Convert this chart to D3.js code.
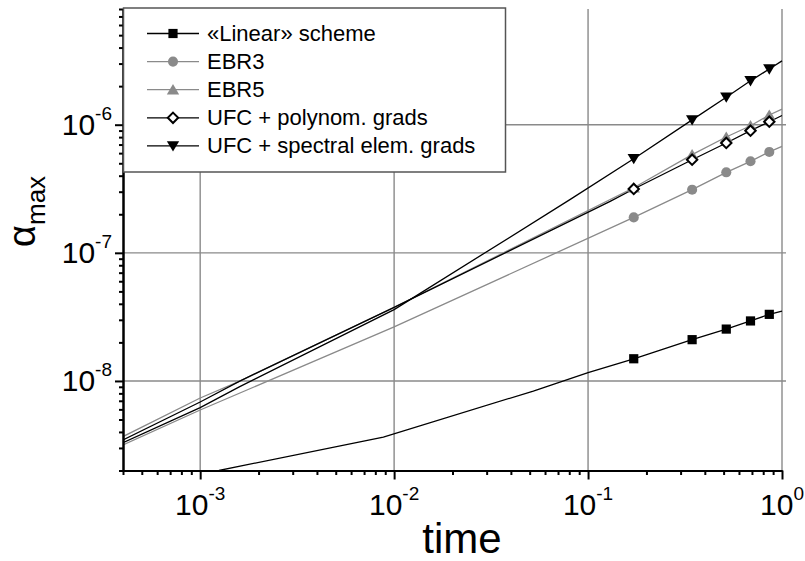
<!DOCTYPE html>
<meta charset="utf-8">
<style>
body { margin: 0; background: #fff; }
text { font-family: "Liberation Sans", Arial, sans-serif; fill: #000; }
</style>
<svg width="805" height="561"></svg>
<script src="https://d3js.org/d3.v7.min.js"></script>
<script>

// [time, alpha_max]
var markerTimes = [0.172, 0.344, 0.516, 0.688, 0.86];
var linearScheme = [[1.25e-3, 2.0e-9], [8.8e-3, 3.65e-9], [0.0522, 8.34e-9], [0.1, 1.16e-8], [0.172, 1.49e-8], [0.344, 2.10e-8], [0.516, 2.54e-8], [0.688, 2.94e-8], [0.86, 3.31e-8], [1, 3.51e-8]];
var ebr3 = [[4e-4, 3.17e-9], [1e-3, 5.93e-9], [1e-2, 2.64e-8], [0.172, 1.89e-7], [0.344, 3.11e-7], [0.516, 4.25e-7], [0.688, 5.18e-7], [0.86, 6.13e-7], [1, 6.78e-7]];
var ebr5 = [[4e-4, 3.68e-9], [1e-3, 7.36e-9], [1.6e-3, 9.98e-9], [1e-2, 3.75e-8], [0.172, 3.22e-7], [0.344, 5.84e-7], [0.516, 8.02e-7], [0.688, 9.82e-7], [0.86, 1.19e-6], [1, 1.325e-6]];
var ufcPoly = [[4e-4, 3.46e-9], [1e-3, 6.85e-9], [1.6e-3, 9.98e-9], [1e-2, 3.75e-8], [0.13, 2.52e-7], [0.172, 3.15e-7], [0.344, 5.33e-7], [0.516, 7.2e-7], [0.688, 8.98e-7], [0.86, 1.055e-6], [1, 1.18e-6]];
var ufcSpectral = [[4e-4, 3.3e-9], [1e-3, 6.19e-9], [1.6e-3, 9.03e-9], [1e-2, 3.6e-8], [0.0806, 2.6e-7], [0.172, 5.43e-7], [0.344, 1.09e-6], [0.516, 1.64e-6], [0.688, 2.2e-6], [0.86, 2.72e-6], [1, 3.15e-6]];

var seriesNames = ["\u00abLinear\u00bb scheme", "EBR3", "EBR5", "UFC + polynom. grads", "UFC + spectral elem. grads"];
var xMajor = [1e-3, 1e-2, 1e-1, 1];
var xLabels = ["-3", "-2", "-1", "0"];
var yMajor = [1e-8, 1e-7, 1e-6];
var yLabels = ["-8", "-7", "-6"];

var svg = d3.select("svg");

var x = d3.scaleLog().domain([4e-4, 1]).range([123, 782]);
var y = d3.scaleLog().domain([2e-9, 8e-6]).range([470.5, 9]);

var grey = "#8a8a8a";

// shapes for markers, centred at 0,0
function square(s) { return "M" + -s + "," + -s + "h" + 2 * s + "v" + 2 * s + "h" + -2 * s + "Z"; }
function triUp(s) { return "M0," + (-s) + "L" + s * 1.1 + "," + s * 0.85 + "L" + -s * 1.1 + "," + s * 0.85 + "Z"; }
function triDown(s) { return "M0," + s + "L" + s * 1.1 + "," + -s * 0.85 + "L" + -s * 1.1 + "," + -s * 0.85 + "Z"; }
function diamond(s) { return "M0," + -s + "L" + s + ",0L0," + s + "L" + -s + ",0Z"; }

var series = [
  { data: linearScheme, color: "#000", shape: square(4.6), fill: "#000", stroke: "none" },
  { data: ebr3, color: grey, shape: d3.symbol(d3.symbolCircle, 80)(), fill: grey, stroke: "none" },
  { data: ebr5, color: grey, shape: triUp(5.6), fill: grey, stroke: "none" },
  { data: ufcPoly, color: "#000", shape: diamond(5.2), fill: "#fff", stroke: "#000" },
  { data: ufcSpectral, color: "#000", shape: triDown(5.6), fill: "#000", stroke: "none" }
];

// grid
var minorX = [], minorY = [];
[1e-4, 1e-3, 1e-2, 1e-1].forEach(function(d) { for (var k = 2; k < 10; k++) minorX.push(d * k); });
[1e-9, 1e-8, 1e-7, 1e-6].forEach(function(d) { for (var k = 2; k < 10; k++) minorY.push(d * k); });
minorX = minorX.filter(function(v) { return v >= 4e-4 && v <= 1; });
minorY = minorY.filter(function(v) { return v >= 2e-9 && v <= 8e-6; });

svg.append("g").selectAll("line").data(xMajor).enter().append("line")
  .attr("x1", x).attr("x2", x).attr("y1", 9).attr("y2", 470)
  .attr("stroke", grey).attr("stroke-width", 1.4);
svg.append("g").selectAll("line").data(yMajor).enter().append("line")
  .attr("x1", 123).attr("x2", 786).attr("y1", y).attr("y2", y)
  .attr("stroke", grey).attr("stroke-width", 1.4);

svg.append("clipPath").attr("id", "clip").append("rect")
  .attr("x", 123).attr("y", 9).attr("width", 660).attr("height", 461.5);

var line = d3.line().x(function(d) { return x(d[0]); }).y(function(d) { return y(d[1]); });

var plot = svg.append("g").attr("clip-path", "url(#clip)");
series.forEach(function(s) {
  plot.append("path").attr("d", line(s.data)).attr("fill", "none")
    .attr("stroke", s.color).attr("stroke-width", 1.3);
});
series.forEach(function(s) {
  svg.append("g").selectAll("path")
    .data(s.data.filter(function(d) { return markerTimes.indexOf(d[0]) >= 0; }))
    .enter().append("path")
    .attr("d", s.shape)
    .attr("transform", function(d) { return "translate(" + x(d[0]) + "," + y(d[1]) + ")"; })
    .attr("fill", s.fill).attr("stroke", s.stroke).attr("stroke-width", 2);
});

// axes
function styleAxis(g) {
  g.selectAll("path, line").attr("stroke", "#000").attr("stroke-width", 2);
}
svg.append("g").attr("transform", "translate(0,470.5)")
  .call(d3.axisBottom(x).tickValues(xMajor).tickSize(9).tickSizeOuter(0).tickFormat(""))
  .call(styleAxis);
svg.append("g").attr("transform", "translate(0,470.5)")
  .call(d3.axisBottom(x).tickValues(minorX).tickSize(4.5).tickSizeOuter(0).tickFormat(""))
  .call(styleAxis);
svg.append("g").attr("transform", "translate(123,0)")
  .call(d3.axisLeft(y).tickValues(yMajor).tickSize(8).tickSizeOuter(0).tickFormat(""))
  .call(styleAxis);
svg.append("g").attr("transform", "translate(123,0)")
  .call(d3.axisLeft(y).tickValues(minorY).tickSize(4).tickSizeOuter(0).tickFormat(""))
  .call(styleAxis);

// tick labels with superscript exponents
xMajor.forEach(function(v, i) {
  var t = svg.append("text").attr("x", x(v)).attr("y", 515).attr("text-anchor", "middle").style("font-size", "30px");
  t.append("tspan").text("10");
  t.append("tspan").attr("dy", -15).style("font-size", "19px").text(xLabels[i]);
});
yMajor.forEach(function(v, i) {
  var t = svg.append("text").attr("x", 112).attr("y", y(v) + 10).attr("text-anchor", "end").style("font-size", "30px");
  t.append("tspan").text("10");
  t.append("tspan").attr("dy", -15).style("font-size", "19px").text(yLabels[i]);
});

svg.append("text").attr("x", 462).attr("y", 553).attr("text-anchor", "middle")
  .style("font-size", "42px").text("time");

var yl = svg.append("text").attr("transform", "translate(35,247) rotate(-90)").style("font-size", "38px");
yl.append("tspan").text("\u03b1");
yl.append("tspan").attr("dy", 10).style("font-size", "26px").text("max");

// legend
var lg = svg.append("g");
lg.append("rect").attr("x", 123.5).attr("y", 8).attr("width", 382).attr("height", 164)
  .attr("fill", "#fff").attr("stroke", "#555").attr("stroke-width", 1.5);
series.forEach(function(s, i) {
  var cy = 33.5 + 28.1 * i;
  lg.append("line").attr("x1", 147).attr("x2", 199).attr("y1", cy).attr("y2", cy)
    .attr("stroke", s.color).attr("stroke-width", 1.3);
  lg.append("path").attr("d", s.shape).attr("transform", "translate(173," + cy + ")")
    .attr("fill", s.fill).attr("stroke", s.stroke).attr("stroke-width", 2);
  lg.append("text").attr("x", 207).attr("y", cy + 7.5).style("font-size", "22px").text(seriesNames[i]);
});

</script>
